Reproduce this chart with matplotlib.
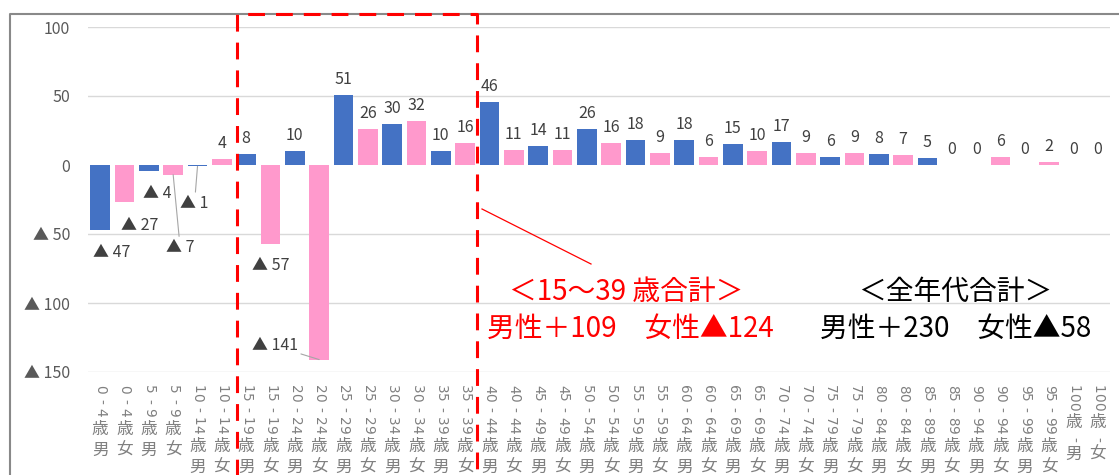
import re
import matplotlib
matplotlib.use('Agg')
import matplotlib.pyplot as plt
from matplotlib.transforms import blended_transform_factory, IdentityTransform
from matplotlib.lines import Line2D

plt.rcParams['font.family'] = ['Noto Sans CJK JP', 'DejaVu Sans']

# ---------------- data ----------------
age_groups = ['0-4歳', '5-9歳', '10-14歳', '15-19歳', '20-24歳', '25-29歳', '30-34歳',
              '35-39歳', '40-44歳', '45-49歳', '50-54歳', '55-59歳', '60-64歳', '65-69歳',
              '70-74歳', '75-79歳', '80-84歳', '85-89歳', '90-94歳', '95-99歳', '100歳-']
sexes = ['男', '女']
male = [-47, -4, -1, 8, 10, 51, 30, 10, 46, 14, 26, 18, 18, 15, 17, 6, 8, 5, 0, 0, 0]
female = [-27, -7, 4, -57, -141, 26, 32, 16, 11, 11, 16, 9, 6, 10, 9, 9, 7, 0, 6, 2, 0]

y_ticks = [-150, -100, -50, 0, 50, 100]
y_tick_labels = ['▲ 150', '▲ 100', '▲ 50', '0', '50', '100']

box_title = '＜15～39 歳合計＞'
box_total = '男性＋109　女性▲124'
all_title = '＜全年代合計＞'
all_total = '男性＋230　女性▲58'

# ---------------- styles ----------------
colors = {'男': '#4472C4', '女': '#FF99CC'}
# label offsets (pixels) relative to bar end, for negative / moved labels
label_offsets = {0: (12, -22.5), 1: (15, -23), 2: (8, -22.5), 3: (7, -73),
                 4: (-3, -37), 7: (0, -22), 9: (-44, 13.6)}
leader_idx = {3, 4, 9}

categories = [g + s for g in age_groups for s in sexes]
values = [v for pair in zip(male, female) for v in pair]
bar_colors = [colors[c[-1]] for c in categories]

W, H = 1119, 475
fig = plt.figure(figsize=(W / 100, H / 100), dpi=100)
ax = fig.add_axes([88 / W, 1 - 372 / H, (1110 - 88) / W, (372 - 27) / H])

x = list(range(len(categories)))
ax.bar(x, values, width=0.82, color=bar_colors, zorder=2)
ax.set_xlim(-0.5, len(categories) - 0.5)
ax.set_ylim(-150, 100)

for t in y_ticks:
    if t != 0:
        ax.axhline(t, color='#D9D9D9', lw=1.0, zorder=1)
ax.set_yticks(y_ticks)
ax.set_yticklabels(y_tick_labels, fontsize=11.5, color='#595959')
ax.tick_params(axis='y', length=0, pad=13)
ax.set_xticks([])
for s in ax.spines.values():
    s.set_visible(False)

# data labels
for i, v in enumerate(values):
    txt = f'▲ {-v}' if v < 0 else f'{v}'
    if i in label_offsets:
        off = label_offsets[i]
    else:
        off = (0, 15.5)
    arrow = None
    if i in leader_idx:
        arrow = dict(arrowstyle='-', color='#A6A6A6', lw=0.8, shrinkA=0, shrinkB=0)
    ax.annotate(txt, xy=(i, v), xytext=off, textcoords='offset pixels',
                ha='center', va='center', fontsize=11.5, color='#404040',
                arrowprops=arrow, zorder=3, annotation_clip=False)

# x category labels, vertical (Japanese tategaki style: digits rotated, kanji upright)
trans = blended_transform_factory(ax.transData, IdentityTransform())
lab_color = '#808080'
for i, lab in enumerate(categories):
    cur = 385.0  # pixels from top of figure
    prev_cjk = False
    for j, ch in enumerate(lab):
        if ch.isdigit():
            ax.text(i, H - (cur + 4.25), ch, rotation=270, ha='center', va='center',
                    transform=trans, fontsize=9.8, color=lab_color,
                    family='DejaVu Sans', clip_on=False)
            cur += 8.5
            prev_cjk = False
        elif ch == '-':
            step = 10 if prev_cjk else 15
            ax.text(i, H - (cur + step / 2), ch, rotation=270, ha='center', va='center',
                    transform=trans, fontsize=9.8, color=lab_color,
                    family='DejaVu Sans', clip_on=False)
            cur += step
        else:
            if not prev_cjk:
                cur += 3
            ax.text(i, H - (cur + 9.5), ch, ha='center', va='center',
                    transform=trans, fontsize=12, color=lab_color, clip_on=False)
            cur += 21
            prev_cjk = True

# chart frame
def fx(px):
    return px / W

def fy(py):
    return 1 - py / H

fig.add_artist(Line2D([fx(10), fx(10), fx(W + 5)], [fy(H + 5), fy(14), fy(14)],
                      transform=fig.transFigure, color='#898989', lw=1.5))
# red dashed box
fig.add_artist(Line2D([fx(237), fx(237), fx(477), fx(477)],
                      [fy(H + 10), fy(14), fy(14), fy(H + 10)],
                      transform=fig.transFigure, color='#FF0000', lw=2.2,
                      linestyle=(0, (5.5, 3.6)), zorder=5))
# red leader line
fig.add_artist(Line2D([fx(482), fx(591)], [fy(209), fy(264)],
                      transform=fig.transFigure, color='#FF0000', lw=0.9, zorder=5))

fig.text(fx(626), fy(292), box_title, color='#FF0000', fontsize=20, ha='center', va='center')
fig.text(fx(630), fy(329), box_total, color='#FF0000', fontsize=20, ha='center', va='center')
fig.text(fx(955), fy(292), all_title, color='#000000', fontsize=20, ha='center', va='center')
fig.text(fx(956), fy(329), all_total, color='#000000', fontsize=20, ha='center', va='center')

fig.savefig('out.png', dpi=100)
